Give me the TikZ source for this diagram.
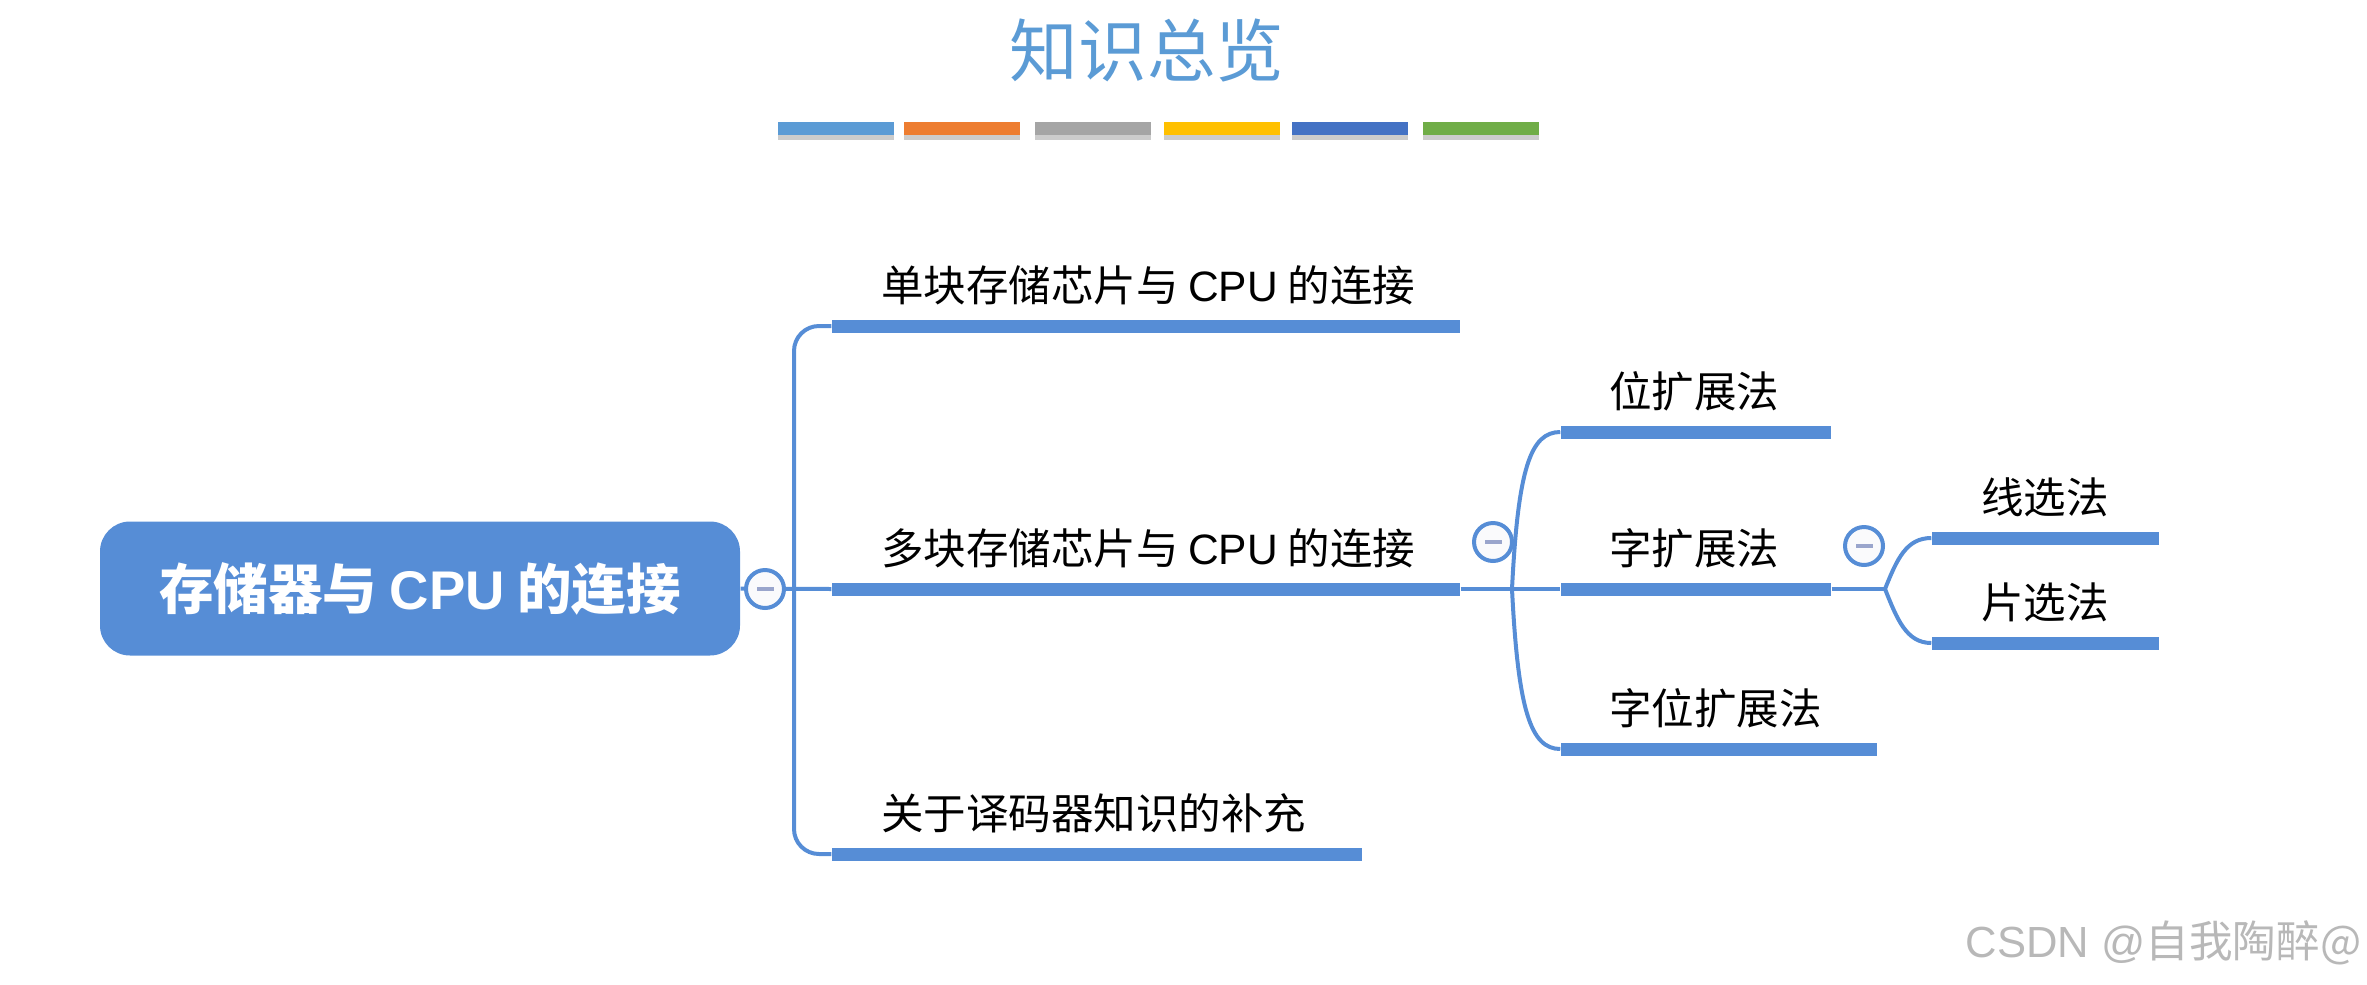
\documentclass[tikz,border=0pt]{standalone}
\usepackage{fontspec}
\setmainfont{Noto Sans CJK SC}
\newfontfamily\latinfont{Liberation Sans}
\usetikzlibrary{positioning, shadows}
\definecolor{mapblue}{HTML}{568DD6}
\definecolor{titleblue}{HTML}{5B9BD5}
\definecolor{minusgray}{HTML}{9AA5CC}
\tikzstyle{rootbox} = [rectangle, rounded corners=0.3cm, minimum width=6.4cm, minimum height=1.34cm, inner sep=0pt, text centered, fill=mapblue, text=white, font=\fontsize{15.5}{18}\selectfont\bfseries]
\tikzstyle{bar} = [rectangle, minimum height=0.13cm, inner sep=0pt, fill=mapblue]
\tikzstyle{textbox} = [inner sep=0pt, anchor=south west, font=\fontsize{12.1}{14}\selectfont]
\tikzstyle{fold} = [circle, minimum size=0.38cm, inner sep=0pt, draw=mapblue, line width=0.04cm, fill=white!95!minusgray, path picture={\fill [minusgray] (-0.085,-0.022) rectangle (0.085,0.022);}]
\tikzstyle{swatch} = [rectangle, minimum width=1.16cm, minimum height=0.13cm, inner sep=0pt, drop shadow={shadow xshift=0cm, shadow yshift=-0.05cm, opacity=0.2, fill=black}]
\tikzstyle{link} = [mapblue, line width=0.04cm]
\begin{document}
\begin{tikzpicture}
\useasboundingbox (0,0) rectangle (23.67,-9.84);
\node (title) [font=\fontsize{19.5}{24}\selectfont, text=titleblue] at (11.47,-0.5) {知识总览};
\foreach \name/\xpos/\col in {a/8.36/5B9BD5, b/9.62/ED7D31, c/10.93/A5A5A5, d/12.22/FFC000, e/13.50/4472C4, f/14.81/70AD47} {
  \definecolor{swatchcol}{HTML}{\col}
  \node (sw\name) [swatch, fill=swatchcol] at (\xpos,-1.285) {};
}
\node (root) [rootbox] at (4.2,-5.885) {存储器与 {\latinfont CPU} 的连接};
% first level
\node (bar1) [bar, minimum width=6.28cm] at (11.46,-3.26) {};
\node (bar2) [bar, minimum width=6.28cm] at (11.46,-5.89) {};
\node (bar3) [bar, minimum width=5.30cm] at (10.97,-8.54) {};
\node (txt1) [textbox, above=0.13cm of bar1.north west, anchor=south west, xshift=0.49cm] {单块存储芯片与 {\latinfont CPU} 的连接};
\node (txt2) [textbox, above=0.13cm of bar2.north west, anchor=south west, xshift=0.49cm] {多块存储芯片与 {\latinfont CPU} 的连接};
\node (txt3) [textbox, above=0.13cm of bar3.north west, anchor=south west, xshift=0.49cm] {关于译码器知识的补充};
% second level
\node (bar4) [bar, minimum width=2.70cm] at (16.96,-4.32) {};
\node (bar5) [bar, minimum width=2.70cm] at (16.96,-5.89) {};
\node (bar6) [bar, minimum width=3.16cm] at (17.19,-7.49) {};
\node (txt4) [textbox, above=0.13cm of bar4.north west, anchor=south west, xshift=0.48cm] {位扩展法};
\node (txt5) [textbox, above=0.13cm of bar5.north west, anchor=south west, xshift=0.48cm] {字扩展法};
\node (txt6) [textbox, above=0.13cm of bar6.north west, anchor=south west, xshift=0.48cm] {字位扩展法};
% third level
\node (bar7) [bar, minimum width=2.27cm] at (20.455,-5.38) {};
\node (bar8) [bar, minimum width=2.27cm] at (20.455,-6.43) {};
\node (txt7) [textbox, above=0.13cm of bar7.north west, anchor=south west, xshift=0.49cm] {线选法};
\node (txt8) [textbox, above=0.13cm of bar8.north west, anchor=south west, xshift=0.49cm] {片选法};
% connectors
\coordinate (fork1) at (7.94,-5.89);
\coordinate (fork2) at (15.12,-5.89);
\coordinate (fork3) at (18.85,-5.89);
\draw [link] (root.east) -- (bar2.west);
\draw [link, rounded corners=0.25cm] (fork1) |- (bar1.west);
\draw [link, rounded corners=0.25cm] (fork1) |- (bar3.west);
\draw [link] (bar2.east) -- (bar5.west);
\draw [link] (fork2) .. controls +(0.06,1.2) and +(-0.3,0) .. (bar4.west);
\draw [link] (fork2) .. controls +(0.06,-1.2) and +(-0.3,0) .. (bar6.west);
\draw [link] (bar5.east) -- (fork3);
\draw [link] (fork3) .. controls +(0.12,0.3) and +(-0.25,0) .. (bar7.west);
\draw [link] (fork3) .. controls +(0.12,-0.3) and +(-0.25,0) .. (bar8.west);
\node (fold1) [fold] at (7.65,-5.89) {};
\node (fold2) [fold] at (14.93,-5.42) {};
\node (fold3) [fold] at (18.64,-5.46) {};
\node (mark) [anchor=south east, inner sep=0pt, text=black!28, font=\fontsize{12.4}{14}\selectfont] at (23.62,-9.66) {{\latinfont CSDN @}自我陶醉@};
\end{tikzpicture}
\end{document}
